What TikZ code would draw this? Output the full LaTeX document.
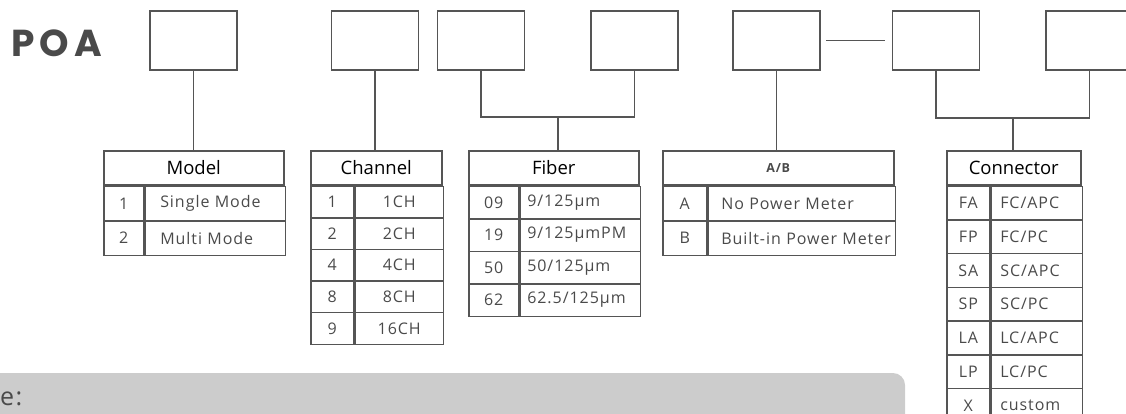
\documentclass[tikz,border=0pt]{standalone}
\usepackage{fontspec}
\setmainfont{Open Sans}
\newfontfamily\spacedfont{Open Sans}[LetterSpace=6]
\newfontfamily\titlefont{Poppins}[LetterSpace=14]
\usetikzlibrary{positioning,calc}
\definecolor{linec}{HTML}{555555}
\definecolor{txtc}{HTML}{4A4A4A}
\definecolor{notefill}{HTML}{CCCCCC}
\newcommand{\bodyfont}{\spacedfont\fontsize{16}{18}\selectfont}
\newcommand{\hdrfont}{\fontsize{18.5}{20}\selectfont}
\tikzset{
  field/.style={draw=linec, line width=1.5pt, minimum width=87pt,
    minimum height=59pt, inner sep=0pt},
  link/.style={draw=linec, line width=1.5pt},
  hdr/.style={draw=linec, line width=1.5pt, anchor=north west,
    minimum height=34pt, inner sep=0pt, font=\hdrfont, text=black},
  keycell/.style={draw=linec, line width=1.5pt, anchor=north west,
    inner sep=0pt, font=\bodyfont, text=txtc},
  valcell/.style={keycell, text width=#1, align=left}
}

\begin{document}
\begin{tikzpicture}[x=1pt,y=-1pt]
  \path[use as bounding box, clip] (0,0) rectangle (1126,413);
  % note bar at the bottom
  \fill[notefill, rounded corners=12pt] (-20,373) rectangle (905,450);
  \node[anchor=base west, inner sep=0pt, text=txtc,
    font=\spacedfont\fontsize{25}{28}\selectfont] (note) at (0,405) {e:};

  % code fields
  \node[anchor=base west, inner sep=0pt, text=txtc,
    font=\titlefont\bfseries\fontsize{37.5}{42}\selectfont] (poa) at (11,56) {POA};
  \node[field] (f1) at (193.5,40.5) {};
  \node[field] (f2) at (375,40.5) {};
  \node[field] (f3) at (481,40.5) {};
  \node[field] (f4) at (634.5,40.5) {};
  \node[field] (f5) at (776.5,40.5) {};
  \node[field] (f6) at (936,40.5) {};
  \node[field] (f7) at (1089.5,40.5) {};

  % model
  \node[hdr, minimum width=180pt] (model) at (103,150) {Model};
  \foreach \k/\v [count=\i] in {1/Single Mode,2/Multi Mode} {
    \node[keycell, minimum width=40pt, minimum height=34.5pt] (model-k\i)
      at ($(model.south west)+(0,{(\i-1)*34.5})$) {\k};
    \node[valcell=140pt, minimum height=34.5pt] (model-v\i)
      at (model-k\i.north east) {\hspace*{15pt}\v};
  }

  % channel
  \node[hdr, minimum width=131pt] (channel) at (310,150) {Channel};
  \foreach \k/\v [count=\i] in {1/1CH,2/2CH,4/4CH,8/8CH,9/16CH} {
    \node[keycell, minimum width=43pt, minimum height=31.6pt] (channel-k\i)
      at ($(channel.south west)+(0,{(\i-1)*31.6})$) {\k};
    \node[keycell, minimum width=88pt, minimum height=31.6pt] (channel-v\i)
      at (channel-k\i.north east) {\v};
  }

  % fiber
  \node[hdr, minimum width=170pt] (fiber) at (468,150) {Fiber};
  \foreach \k/\v [count=\i] in {09/{9/125µm},19/{9/125µmPM},50/{50/125µm},62/{62.5/125µm}} {
    \node[keycell, minimum width=50pt, minimum height=32.5pt] (fiber-k\i)
      at ($(fiber.south west)+(0,{(\i-1)*32.5})$) {\k};
    \node[valcell=120pt, minimum height=32.5pt] (fiber-v\i)
      at (fiber-k\i.north east) {\hspace*{7pt}\v};
  }

  % power meter
  \node[hdr, minimum width=231pt, text=txtc,
    font=\spacedfont\bfseries\fontsize{12.5}{14}\selectfont] (ab) at (662,150) {A/B};
  \foreach \k/\v [count=\i] in {A/No Power Meter,B/Built-in Power Meter} {
    \node[keycell, minimum width=44pt, minimum height=34.5pt] (ab-k\i)
      at ($(ab.south west)+(0,{(\i-1)*34.5})$) {\k};
    \node[valcell=187pt, minimum height=34.5pt] (ab-v\i)
      at (ab-k\i.north east) {\hspace*{13pt}\v};
  }

  % connector
  \node[hdr, minimum width=134pt] (connector) at (946,150) {Connector};
  \foreach \k/\v [count=\i] in {FA/{FC/APC},FP/{FC/PC},SA/{SC/APC},SP/{SC/PC},LA/{LC/APC},LP/{LC/PC},X/custom} {
    \node[keycell, minimum width=43pt, minimum height=33.7pt] (connector-k\i)
      at ($(connector.south west)+(0,{(\i-1)*33.7})$) {\k};
    \node[valcell=91pt, minimum height=33.7pt] (connector-v\i)
      at (connector-k\i.north east) {\hspace*{9pt}\v};
  }

  % links
  \draw[link] (f1.south) -- (f1.south |- model.north);
  \draw[link] (f2.south) -- (f2.south |- channel.north);
  \coordinate (fj) at ($(f3.south)!0.5!(f4.south)+(0,46)$);
  \draw[link] (f3.south) |- (fj) -| (f4.south);
  \draw[link] (fj) -- (fj |- fiber.north);
  \draw[link] (f5.south) -- (f5.south |- ab.north);
  \draw[link] ([xshift=5pt]f5.east) -- ([xshift=-7pt]f6.west);
  \coordinate (cj) at ($(f6.south)!0.5!(f7.south)+(0,47)$);
  \draw[link] (f6.south) |- (cj) -| (f7.south);
  \draw[link] (cj) -- (cj |- connector.north);
\end{tikzpicture}
\end{document}
